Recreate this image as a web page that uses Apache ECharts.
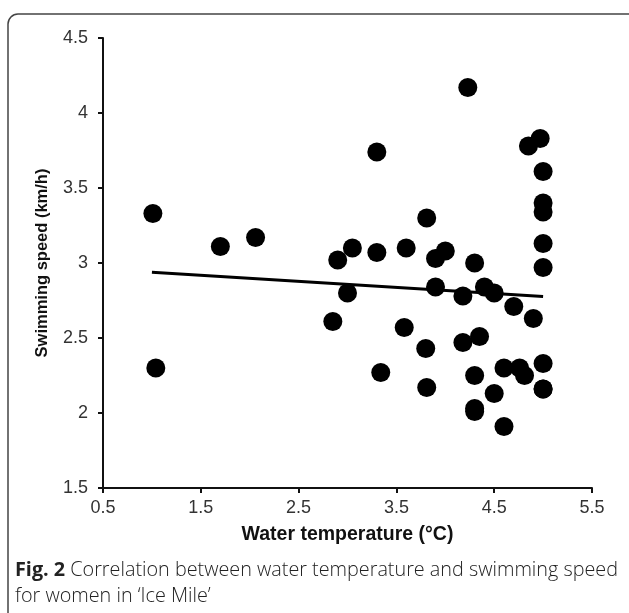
<!DOCTYPE html>
<html>
<head>
<meta charset="utf-8">
<script src="https://cdn.jsdelivr.net/npm/echarts@6/dist/echarts.min.js"></script>
<style>
html,body{margin:0;padding:0;background:#fff;}
#chart{width:629px;height:613px;}
</style>
</head>
<body>
<div id="chart"></div>
<script>
// Water temperature (°C)
const temps = [1.01, 1.04, 1.70, 2.06, 2.85, 2.90, 3.00, 3.05, 3.30, 3.30, 3.34, 3.58, 3.60, 3.80, 3.81, 3.81, 3.90, 3.90, 4.00, 4.18, 4.18, 4.23, 4.30, 4.30, 4.30, 4.30, 4.35, 4.40, 4.50, 4.50, 4.60, 4.60, 4.70, 4.76, 4.81, 4.85, 4.90, 4.97, 5.00, 5.00, 5.00, 5.00, 5.00, 5.00, 5.00, 5.00];
// Swimming speed (km/h)
const speeds = [3.33, 2.30, 3.11, 3.17, 2.61, 3.02, 2.80, 3.10, 3.74, 3.07, 2.27, 2.57, 3.10, 2.43, 3.30, 2.17, 3.03, 2.84, 3.08, 2.78, 2.47, 4.17, 3.00, 2.25, 2.03, 2.01, 2.51, 2.84, 2.80, 2.13, 2.30, 1.91, 2.71, 2.30, 2.25, 3.78, 2.63, 3.83, 3.61, 3.40, 3.34, 3.13, 2.97, 2.33, 2.16, 2.16];
// Trend line endpoints
const trendX = [1.0, 5.0];
const trendY = [2.938, 2.777];
const xTicks = ['0.5', '1.5', '2.5', '3.5', '4.5', '5.5'];
const yTicks = ['1.5', '2', '2.5', '3', '3.5', '4', '4.5'];

const points = temps.map((t, i) => [t, speeds[i]]);
const trend = trendX.map((t, i) => [t, trendY[i]]);

const chart = echarts.init(document.getElementById('chart'), null, {renderer: 'canvas'});
const axisFont = 'Liberation Sans, Arial, sans-serif';
chart.setOption({
  animation: false,
  backgroundColor: '#ffffff',
  grid: {left: 103, right: 37, top: 38, bottom: 125, containLabel: false},
  xAxis: {
    type: 'value', min: 0.5, max: 5.5, interval: 1,
    axisLine: {show: true, onZero: false, lineStyle: {color: '#111', width: 2}},
    axisTick: {show: true, inside: false, length: 5, lineStyle: {color: '#111', width: 2}},
    splitLine: {show: false},
    axisLabel: {color: '#333', fontSize: 18, fontFamily: axisFont, margin: 11,
      formatter: v => xTicks.find(s => Math.abs(parseFloat(s) - v) < 1e-6) || ''},
    name: 'Water temperature (°C)', nameLocation: 'middle', nameGap: 37,
    nameTextStyle: {color: '#111', fontSize: 19.5, fontWeight: 'bold', fontFamily: axisFont}
  },
  yAxis: {
    type: 'value', min: 1.5, max: 4.5, interval: 0.5,
    axisLine: {show: true, onZero: false, lineStyle: {color: '#111', width: 2}},
    axisTick: {show: true, inside: false, length: 5, lineStyle: {color: '#111', width: 2}},
    splitLine: {show: false},
    axisLabel: {color: '#333', fontSize: 18, fontFamily: axisFont, margin: 15,
      formatter: v => yTicks.find(s => Math.abs(parseFloat(s) - v) < 1e-6) || ''},
    name: 'Swimming speed (km/h)', nameLocation: 'middle', nameGap: 52, nameRotate: 90,
    nameTextStyle: {color: '#111', fontSize: 16.5, fontWeight: 'bold', fontFamily: axisFont}
  },
  series: [
    {type: 'scatter', data: points, symbol: 'circle', symbolSize: 19,
      itemStyle: {color: '#000', opacity: 1}, z: 3},
    {type: 'line', data: trend, showSymbol: false, symbol: 'none',
      lineStyle: {color: '#000', width: 3}, z: 2}
  ],
  graphic: [
    {type: 'rect', shape: {x: 8, y: 14, width: 640, height: 620, r: 10},
      style: {fill: 'none', stroke: '#444', lineWidth: 1.5}, silent: true},
    {type: 'text', left: 15, top: 557,
      style: {rich: {b: {fontWeight: 'bold', fontSize: 19.8, fontFamily: 'Open Sans', fill: '#222'},
                     n: {fontWeight: 300, fontSize: 19.8, fontFamily: 'Open Sans', fill: '#222'}},
              text: '{b|Fig. 2}{n| Correlation between water temperature and swimming speed}\n{n|for women in \u2018Ice Mile\u2019}',
              lineHeight: 26}}
  ]
});
</script>
</body>
</html>
